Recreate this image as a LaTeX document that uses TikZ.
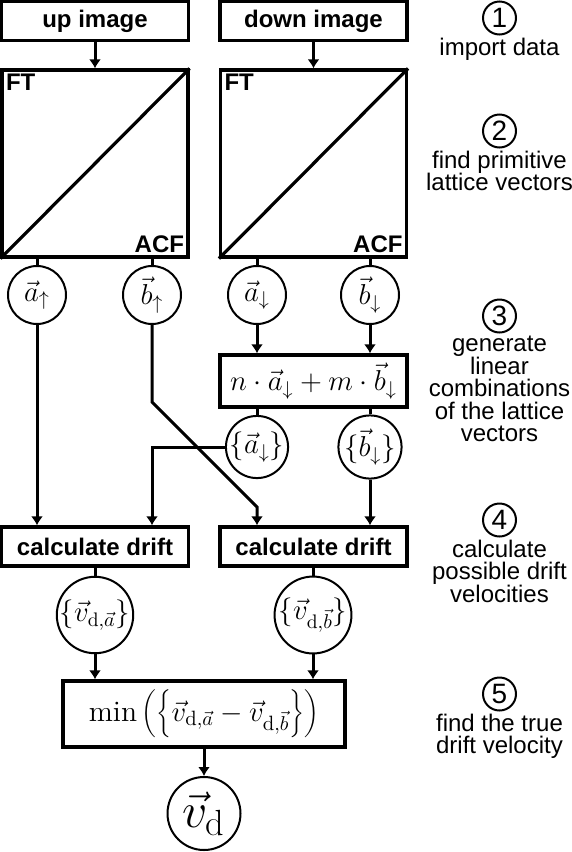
\documentclass[tikz,border=0pt]{standalone}
\usepackage{fontspec}
\setsansfont{Liberation Sans}
\usepackage{tikz}
\usetikzlibrary{positioning,arrows.meta,calc}
\tikzset{
  blk/.style   ={draw, rectangle, line width=1.6pt, inner sep=0pt, minimum width=93.5pt, minimum height=19.5pt, font=\sffamily\bfseries\fontsize{12}{14}\selectfont},
  ftsq/.style  ={draw, rectangle, line width=1.6pt, inner sep=0pt, minimum width=93pt, minimum height=93.5pt},
  corner/.style={inner sep=2.6pt, font=\sffamily\bfseries\fontsize{12}{14}\selectfont},
  mathblk/.style={draw, rectangle, line width=1.6pt, inner sep=0pt, font=\fontsize{14}{16}\selectfont},
  vecc/.style  ={draw, circle, line width=1pt, inner sep=0pt, minimum size=29pt, font=\fontsize{14}{16}\selectfont},
  bigvecc/.style={vecc, minimum size=36.5pt},
  num/.style   ={draw, circle, line width=1pt, inner sep=0pt, minimum size=16.5pt, font=\sffamily\fontsize{14}{16}\selectfont},
  note/.style  ={align=center, inner sep=0pt, font=\sffamily\fontsize{12}{11.3}\selectfont},
  ln/.style    ={line width=1.5pt},
  arr/.style   ={-{Latex[length=4.5pt,width=6pt]}, line width=1.5pt},
}

\begin{document}
\begin{tikzpicture}[x=0.5pt, y=-0.5pt]
  \useasboundingbox (0,0) rectangle (572,852);

  \node[blk] (upimg)   at (95,21)    {up image};
  \node[blk] (downimg) at (313.5,21) {down image};

  \node[ftsq] (ftup)   at (95,163.5)    {};
  \node[ftsq] (ftdown) at (313.5,163.5) {};
  \foreach \s in {ftup,ftdown} {
    \draw[line width=1.6pt] (\s.south west) -- (\s.north east);
    \node[corner, anchor=north west] at (\s.north west) {FT};
    \node[corner, anchor=south east] at (\s.south east) {ACF};
  }

  \node[vecc] (aup)   at (37,295)  {$\vec{a}_\uparrow$};
  \node[vecc] (bup)   at (152,295) {$\vec{b}_\uparrow$};
  \node[vecc] (adown) at (257,295) {$\vec{a}_\downarrow$};
  \node[vecc] (bdown) at (370,295) {$\vec{b}_\downarrow$};

  \node[mathblk, minimum width=93.5pt, minimum height=26pt] (comb) at (313.5,381) {$n\cdot\vec{a}_\downarrow+m\cdot\vec{b}_\downarrow$};

  \node[vecc, minimum size=28pt] (aset) at (257,447) {$\{\vec{a}_\downarrow\}$};
  \node[vecc, minimum size=28pt] (bset) at (370,447) {$\{\vec{b}_\downarrow\}$};

  \node[blk] (calcup)   at (95,546.5)    {calculate drift};
  \node[blk] (calcdown) at (313.5,546.5) {calculate drift};

  \node[bigvecc] (vda) at (95,615)  {$\{\vec{v}_{\mathrm{d},\vec{a}}\}$};
  \node[bigvecc] (vdb) at (313,615) {$\{\vec{v}_{\mathrm{d},\vec{b}}\}$};

  \node[mathblk, minimum width=141pt, minimum height=33pt, font=\fontsize{14.8}{17}\selectfont] (minbox) at (204,714) {$\min\left(\left\{\vec{v}_{\mathrm{d},\vec{a}}-\vec{v}_{\mathrm{d},\vec{b}}\right\}\right)$};

  \node[bigvecc, font=\fontsize{26}{28}\selectfont] (vd) at (204,813.5) {$\vec{v}_\mathrm{d}$};

  \coordinate (k1) at (152,402);
  \coordinate (k2) at (257,507);

  \draw[arr] (upimg) -- (ftup);
  \draw[arr] (downimg.south -| ftdown) -- (ftdown);
  \foreach \c/\s in {aup/ftup,bup/ftup,adown/ftdown,bdown/ftdown}
    \draw[ln] (\s.south -| \c) -- (\c);
  \draw[arr] (adown) -- (adown |- comb.north);
  \draw[arr] (bdown) -- (bdown |- comb.north);
  \draw[ln] (comb.south -| aset) -- (aset);
  \draw[ln] (comb.south -| bset) -- (bset);
  \draw[arr] (aup) -- (aup |- calcup.north);
  \draw[arr] (bup) -- (k1) -- (k2) -- (k2 |- calcdown.north);
  \draw[arr] (aset.west) -- (aset.west -| bup) -- (bup |- calcup.north);
  \draw[arr] (bset) -- (bset |- calcdown.north);
  \draw[ln] (calcup) -- (vda);
  \draw[ln] (vdb |- calcdown.south) -- (vdb);
  \draw[arr] (vda) -- (vda |- minbox.north);
  \draw[arr] (vdb) -- (vdb |- minbox.north);
  \draw[arr] (minbox) -- (vd);

  \node[num] (n1) at (499.5,18)  {1};
  \node[num] (n2) at (499.5,131) {2};
  \node[num] (n3) at (499.5,316) {3};
  \node[num] (n4) at (499.5,520) {4};
  \node[num] (n5) at (499.5,694) {5};
  \node[note, below=1pt of n1] (t1) {import data};
  \node[note, below=1pt of n2] (t2) {find primitive\\lattice vectors};
  \node[note, below=1pt of n3] (t3) {generate\\linear\\combinations\\of the lattice\\vectors};
  \node[note, below=1pt of n4] (t4) {calculate\\possible drift\\velocities};
  \node[note, below=1pt of n5] (t5) {find the true\\drift velocity};
\end{tikzpicture}
\end{document}
